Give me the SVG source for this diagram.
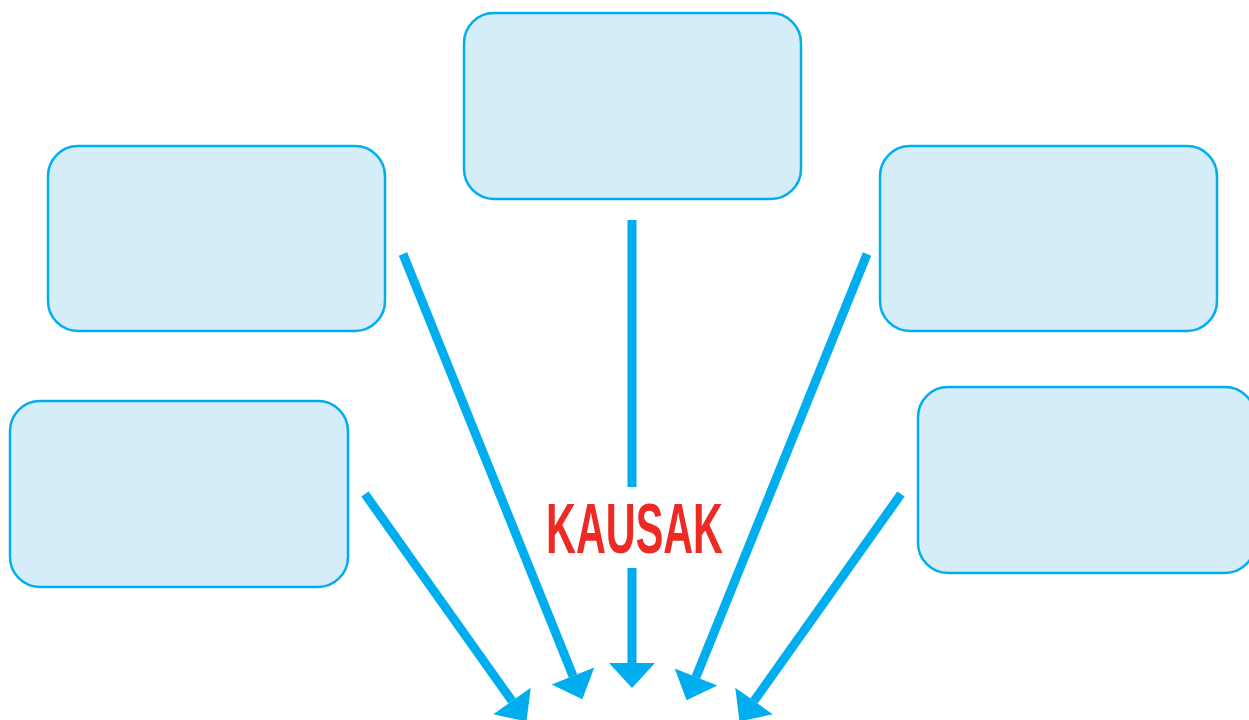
<svg xmlns="http://www.w3.org/2000/svg" width="1249" height="720" viewBox="0 0 1249 720">
<style>
.box{fill:#d5ecf9;stroke:#00aeef;stroke-width:2.5}
.arr{stroke:#00aeef;stroke-width:9;fill:none;marker-end:url(#ah)}
.seg{stroke:#00aeef;stroke-width:9;fill:none}
.lbl{font-family:"Liberation Sans","DejaVu Sans",sans-serif;font-weight:bold;fill:#ee2a24;font-size:71px}
</style>
<defs>
<marker id="ah" markerUnits="userSpaceOnUse" markerWidth="26" markerHeight="46" refX="0" refY="23" orient="auto" overflow="visible">
<path d="M0,0 L25,23 L0,46 z" fill="#00aeef"/>
</marker>
</defs>
<rect width="1249" height="720" fill="#ffffff"/>
<g id="node-top"><rect class="box" x="464" y="13" width="337" height="186" rx="30"/></g>
<g id="node-left-top"><rect class="box" x="48" y="146" width="337" height="185" rx="30"/></g>
<g id="node-right-top"><rect class="box" x="880" y="146" width="337" height="185" rx="30"/></g>
<g id="node-left-bottom"><rect class="box" x="10" y="401" width="338" height="186" rx="30"/></g>
<g id="node-right-bottom"><rect class="box" x="918" y="387" width="337" height="186" rx="30"/></g>
<g id="connectors">
<line class="seg" x1="632" y1="220" x2="632" y2="487"/>
<line class="arr" x1="632" y1="568" x2="632" y2="663"/>
<line class="arr" x1="403" y1="254" x2="573" y2="676"/>
<line class="arr" x1="365" y1="494" x2="512" y2="701"/>
<line class="arr" x1="867" y1="254" x2="696" y2="677"/>
<line class="arr" x1="901" y1="494" x2="754" y2="701"/>
</g>
<g id="label"><text class="lbl" x="546" y="553" textLength="177" lengthAdjust="spacingAndGlyphs">KAUSAK</text></g>
</svg>
